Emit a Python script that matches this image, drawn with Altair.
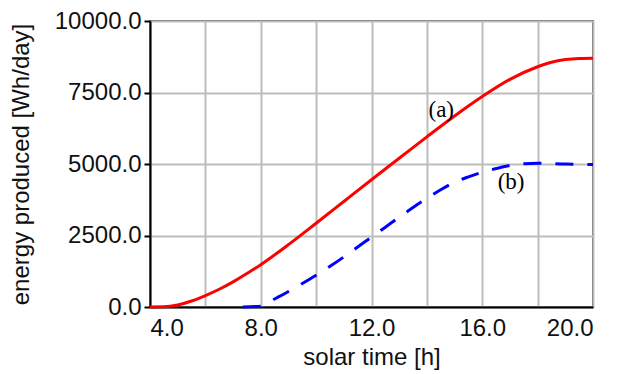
import altair as alt
import pandas as pd

# Series (a): red solid
hours_a = [4, 4.5, 5, 5.5, 6, 6.5, 7, 7.5, 8, 9, 10, 11, 12, 13, 14, 15, 16, 17, 18, 18.5, 19, 19.5, 20]
energy_a = [0, 5, 70, 210, 400, 620, 880, 1170, 1480, 2180, 2930, 3690, 4450, 5200, 5950, 6680, 7360, 7960, 8400, 8560, 8650, 8690, 8700]

# Series (b): blue dashed
hours_b = [7.35, 8, 8.5, 9, 9.5, 10, 11, 11.5, 12, 12.5, 13, 13.5, 14, 14.5, 15, 15.5, 16, 16.5, 17, 17.5, 18, 19, 20]
energy_b = [0, 30, 280, 540, 820, 1110, 1750, 2100, 2440, 2790, 3140, 3480, 3800, 4100, 4360, 4550, 4710, 4840, 4950, 5010, 5030, 5000, 4980]

# Curve labels
label_text = ["(a)", "(b)"]
label_x = [14.52, 17.04]
label_y = [6900, 4360]

x_grid = [4, 6, 8, 10, 12, 14, 16, 18, 20]
y_grid = [0, 1250, 2500, 3750, 5000, 6250, 7500, 8750, 10000]

df_a = pd.DataFrame({"t": hours_a, "e": energy_a})
df_b = pd.DataFrame({"t": hours_b, "e": energy_b})
df_l = pd.DataFrame({"t": label_x, "e": label_y, "lab": label_text})

FONT = "Liberation Sans"

x_enc = alt.X(
    "t:Q",
    scale=alt.Scale(domain=[4, 20], nice=False, zero=False),
    axis=alt.Axis(
        values=x_grid,
        labelExpr="datum.value % 4 == 0 ? format(datum.value, '.1f') : ''",
        title="solar time [h]",
        ticks=False,
        labelPadding=9,
        titlePadding=5,
    ),
)
y_enc = alt.Y(
    "e:Q",
    scale=alt.Scale(domain=[0, 10000], nice=False),
    axis=alt.Axis(
        values=y_grid,
        labelExpr="datum.value % 2500 == 0 ? format(datum.value, '.1f') : ''",
        title="energy produced [Wh/day]",
        tickSize=6,
        labelPadding=3,
        titlePadding=21,
    ),
)

line_a = alt.Chart(df_a).mark_line(color="#ff0000", strokeWidth=3, interpolate="monotone").encode(
    x=x_enc, y=y_enc
)
line_b = alt.Chart(df_b).mark_line(
    color="#0000ff", strokeWidth=3, strokeDash=[18, 14], interpolate="monotone"
).encode(x="t:Q", y="e:Q")
labels = alt.Chart(df_l).mark_text(
    font="Liberation Serif", fontSize=23, color="#000000", align="center", baseline="middle"
).encode(x="t:Q", y="e:Q", text="lab:N")

chart = (
    alt.layer(line_a, line_b, labels)
    .properties(
        width=443,
        height=286,
        autosize=alt.AutoSizeParams(type="none"),
        padding={"left": 142, "top": 13, "right": 16, "bottom": 67},
    )
    .configure_view(stroke="#222222", strokeWidth=1.5)
    .configure_axis(
        labelFont=FONT,
        titleFont=FONT,
        labelFontSize=24,
        titleFontSize=24,
        titleFontWeight="normal",
        labelColor="#111111",
        titleColor="#111111",
        domainColor="#000000",
        domainWidth=2,
        tickColor="#000000",
        tickWidth=2,
        gridColor="#bdbdbd",
        gridWidth=2,
        gridOpacity=1,
        labelOverlap=False,
    )
)

chart.save("out.html", embed_options={"renderer": "svg", "actions": False})
